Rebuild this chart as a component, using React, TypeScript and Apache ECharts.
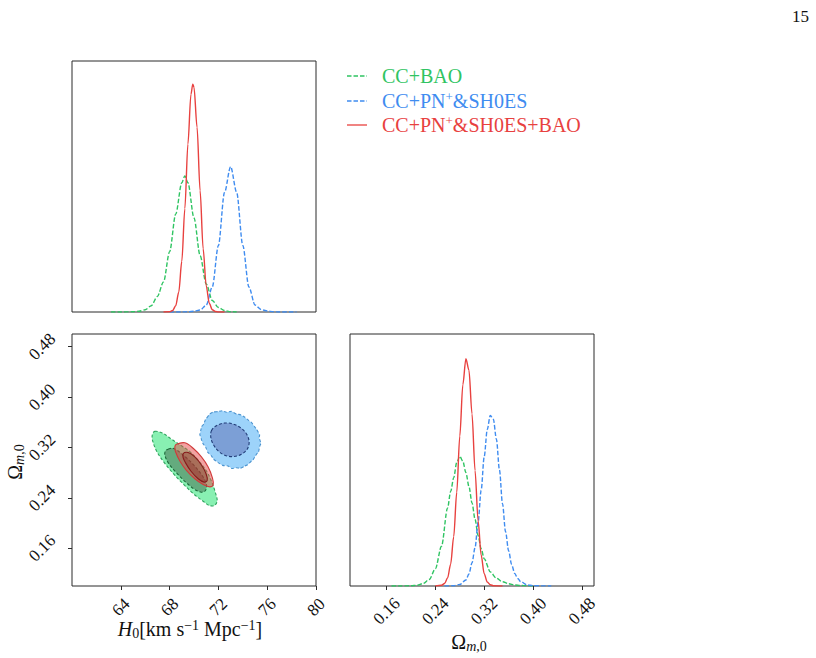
import React, { useEffect, useRef } from "react";
import * as echarts from "echarts";

const SERIES_NAMES = ["CC+BAO", "CC+PN⁺&SH0ES", "CC+PN⁺&SH0ES+BAO"];

const H0_TICKS = [64, 68, 72, 76, 80];
const OM_TICKS = [0.16, 0.24, 0.32, 0.4, 0.48];

// 1D marginal of H0: [H0, relative density]
const H0_CCBAO = [[63.2, 0], [64, 0], [65, 0.001], [65.5, 0.003], [66, 0.009], [66.5, 0.025], [67, 0.062], [67.5, 0.12], [68, 0.24], [68.5, 0.39], [69, 0.515], [69.25, 0.542], [69.5, 0.515], [70, 0.375], [70.5, 0.225], [71, 0.112], [71.5, 0.046], [72, 0.018], [72.5, 0.006], [73, 0.001], [73.5, 0]];
const H0_CCPN = [[68, 0], [69, 0.0003], [69.5, 0.001], [70, 0.003], [70.5, 0.008], [71, 0.027], [71.5, 0.1], [72, 0.265], [72.5, 0.476], [73, 0.579], [73.5, 0.476], [74, 0.265], [74.5, 0.1], [75, 0.028], [75.5, 0.01], [76, 0.004], [76.5, 0.001], [77, 0], [78.4, 0]];
const H0_ALL = [[67.5, 0], [68, 0.001], [68.25, 0.006], [68.5, 0.025], [68.75, 0.079], [69, 0.202], [69.25, 0.412], [69.5, 0.669], [69.75, 0.867], [69.9, 0.908], [70, 0.895], [70.25, 0.736], [70.5, 0.483], [70.75, 0.252], [71, 0.105], [71.25, 0.035], [71.5, 0.009], [71.75, 0.002], [72, 0], [72.5, 0]];

// 1D marginal of Omega_m0
const OM_CCBAO = [[0.168, 0], [0.18, 0], [0.2, 0.001], [0.21, 0.003], [0.22, 0.01], [0.23, 0.026], [0.24, 0.069], [0.25, 0.158], [0.26, 0.31], [0.265, 0.375], [0.27, 0.43], [0.275, 0.49], [0.28, 0.515], [0.285, 0.495], [0.29, 0.45], [0.295, 0.395], [0.3, 0.33], [0.305, 0.265], [0.31, 0.2], [0.315, 0.148], [0.32, 0.108], [0.33, 0.056], [0.34, 0.031], [0.35, 0.017], [0.36, 0.009], [0.37, 0.004], [0.38, 0.002], [0.39, 0.001], [0.4, 0]];
const OM_CCPN = [[0.255, 0], [0.27, 0.001], [0.28, 0.006], [0.29, 0.024], [0.295, 0.048], [0.3, 0.092], [0.305, 0.152], [0.31, 0.253], [0.315, 0.38], [0.32, 0.513], [0.325, 0.621], [0.33, 0.677], [0.335, 0.662], [0.34, 0.583], [0.345, 0.461], [0.35, 0.327], [0.355, 0.215], [0.36, 0.14], [0.365, 0.085], [0.37, 0.05], [0.375, 0.03], [0.38, 0.017], [0.39, 0.005], [0.4, 0.001], [0.43, 0]];
const OM_ALL = [[0.24, 0], [0.25, 0.003], [0.255, 0.01], [0.26, 0.032], [0.265, 0.087], [0.27, 0.196], [0.275, 0.372], [0.28, 0.595], [0.285, 0.799], [0.29, 0.902], [0.295, 0.856], [0.3, 0.683], [0.305, 0.458], [0.31, 0.259], [0.315, 0.123], [0.32, 0.049], [0.325, 0.016], [0.33, 0.005], [0.335, 0.001], [0.35, 0]];

// 2D contours [H0, Omega_m0]
const C_CCBAO_OUT = [[66.78, 0.3454], [67.47, 0.3422], [68.15, 0.3331], [68.97, 0.3225], [69.66, 0.3134], [70.34, 0.2995], [71.02, 0.2825], [71.43, 0.2665], [71.76, 0.2478], [71.9, 0.2355], [71.71, 0.2281], [71.3, 0.2275], [70.75, 0.2345], [69.93, 0.2467], [69.11, 0.2622], [68.29, 0.2787], [67.61, 0.2947], [67.0, 0.3118], [66.65, 0.3278], [66.57, 0.3385]];
const C_CCBAO_IN = [[67.88, 0.3171], [68.29, 0.3187], [68.97, 0.3102], [69.79, 0.2958], [70.61, 0.2771], [71.02, 0.2611], [70.94, 0.2515], [70.61, 0.2489], [70.07, 0.2531], [69.38, 0.2638], [68.56, 0.2798], [67.88, 0.2958], [67.61, 0.3081], [67.66, 0.3145]];
const C_CCPN_OUT = [[71.3, 0.3731], [71.6, 0.3762], [71.98, 0.3769], [72.3, 0.3782], [72.66, 0.3758], [73.05, 0.3772], [73.48, 0.3731], [73.85, 0.3716], [74.17, 0.3678], [74.5, 0.3625], [74.71, 0.3598], [75.0, 0.352], [75.12, 0.3491], [75.38, 0.3398], [75.34, 0.3358], [75.48, 0.3265], [75.4, 0.3225], [75.28, 0.3125], [75.12, 0.3091], [74.85, 0.3005], [74.71, 0.2985], [74.4, 0.2925], [74.17, 0.2905], [73.8, 0.2868], [73.48, 0.2878], [73.1, 0.2865], [72.8, 0.2905], [72.35, 0.2915], [71.98, 0.2958], [71.62, 0.3012], [71.43, 0.3065], [71.12, 0.3125], [70.97, 0.3198], [70.72, 0.3265], [70.6, 0.3331], [70.48, 0.3405], [70.55, 0.3465], [70.62, 0.3528], [70.8, 0.3571], [70.92, 0.3632], [71.02, 0.3662]];
const C_CCPN_IN = [[71.43, 0.3465], [71.84, 0.3545], [72.53, 0.3587], [73.21, 0.3571], [73.89, 0.3502], [74.36, 0.3395], [74.52, 0.3278], [74.36, 0.3171], [73.89, 0.3091], [73.21, 0.3054], [72.53, 0.3075], [71.98, 0.3145], [71.57, 0.3251], [71.38, 0.3358]];
const C_ALL_OUT = [[68.56, 0.3251], [69.25, 0.3273], [69.93, 0.3187], [70.61, 0.3049], [71.16, 0.2889], [71.49, 0.2729], [71.57, 0.2611], [71.3, 0.2574], [70.75, 0.2611], [70.07, 0.2702], [69.38, 0.2835], [68.84, 0.2985], [68.48, 0.3134], [68.43, 0.3209]];
const C_ALL_IN = [[69.11, 0.3102], [69.52, 0.3118], [70.07, 0.3049], [70.61, 0.2921], [70.99, 0.2782], [71.08, 0.2675], [70.83, 0.2649], [70.34, 0.2702], [69.74, 0.2825], [69.3, 0.2958], [69.11, 0.3038]];

const CONTOURS = [C_CCBAO_OUT, C_CCBAO_IN, C_CCPN_OUT, C_CCPN_IN, C_ALL_OUT, C_ALL_IN];

const GREEN = "#2fc462";
const BLUE = "#3f8cf0";
const RED = "#e8413f";

const CONTOUR_STYLES = [
  { fill: "#88f0b2", stroke: "#2ea35c", dash: true, smooth: 0.35 },
  { fill: "#64ab7e", stroke: "#1d6a3b", dash: true, smooth: 0.35 },
  { fill: "#9dd3fa", stroke: "#4b93cf", dash: true, smooth: 0.15 },
  { fill: "#7c9fd6", stroke: "#223d78", dash: true, smooth: 0.35 },
  { fill: "rgba(232,70,70,0.5)", stroke: "#d03a3a", dash: false, smooth: 0.35 },
  { fill: "rgba(140,30,30,0.35)", stroke: "#861a1a", dash: false, smooth: 0.35 },
];

const FONT = "Liberation Serif";
const AXIS_COLOR = "#2b2b2b";

export default function App() {
  const ref = useRef<HTMLDivElement>(null);
  useEffect(() => {
    if (!ref.current) return;
    const chart = echarts.init(ref.current, null, { renderer: "svg" });

    const tickLabel = (margin: number, fmt: (v: number) => string) => ({
      show: true,
      rotate: 45,
      align: "center",
      verticalAlign: "middle",
      margin,
      fontFamily: FONT,
      fontSize: 17,
      color: "#111",
      formatter: (v: number) => fmt(v),
    });

    const lineSeries = (name: string, data: number[][], color: string, dashed: boolean, xi: number) => ({
      name,
      type: "line",
      xAxisIndex: xi,
      yAxisIndex: xi,
      data,
      showSymbol: false,
      smooth: 0.3,
      smoothMonotone: "x",
      lineStyle: { color, width: 1.4, type: dashed ? [4.5, 2] : "solid" },
      itemStyle: { color },
      z: 3,
    });

    const option: any = {
      animation: false,
      backgroundColor: "#fff",
      grid: [
        { left: 72, top: 61, width: 244, height: 251, show: true, borderColor: AXIS_COLOR, borderWidth: 1, backgroundColor: "transparent" },
        { left: 72, top: 334, width: 244, height: 252, show: true, borderColor: AXIS_COLOR, borderWidth: 1, backgroundColor: "transparent" },
        { left: 350, top: 334, width: 244, height: 252, show: true, borderColor: AXIS_COLOR, borderWidth: 1, backgroundColor: "transparent" },
      ],
      xAxis: [
        { gridIndex: 0, type: "value", min: 60, max: 80, axisLine: { show: false }, axisTick: { show: false }, axisLabel: { show: false }, splitLine: { show: false } },
        {
          gridIndex: 1, type: "value", min: 60, max: 80,
          axisLine: { show: false },
          axisTick: { show: true, length: 4, lineStyle: { color: AXIS_COLOR }, customValues: H0_TICKS },
          axisLabel: { ...tickLabel(21, (v) => String(v)), customValues: H0_TICKS },
          splitLine: { show: false },
        },
        {
          gridIndex: 2, type: "value", min: 0.1, max: 0.5,
          axisLine: { show: false },
          axisTick: { show: true, length: 4, lineStyle: { color: AXIS_COLOR }, customValues: OM_TICKS },
          axisLabel: { ...tickLabel(25, (v) => v.toFixed(2)), customValues: OM_TICKS },
          splitLine: { show: false },
        },
      ],
      yAxis: [
        { gridIndex: 0, type: "value", min: 0, max: 1, show: false },
        {
          gridIndex: 1, type: "value", min: 0.1, max: 0.5,
          axisLine: { show: false },
          axisTick: { show: true, length: 4, lineStyle: { color: AXIS_COLOR }, customValues: OM_TICKS },
          axisLabel: { ...tickLabel(30, (v) => v.toFixed(2)), customValues: OM_TICKS },
          splitLine: { show: false },
        },
        { gridIndex: 2, type: "value", min: 0, max: 1, show: false },
      ],
      series: [
        lineSeries(SERIES_NAMES[0], H0_CCBAO, GREEN, true, 0),
        lineSeries(SERIES_NAMES[1], H0_CCPN, BLUE, true, 0),
        lineSeries(SERIES_NAMES[2], H0_ALL, RED, false, 0),
        lineSeries(SERIES_NAMES[0], OM_CCBAO, GREEN, true, 2),
        lineSeries(SERIES_NAMES[1], OM_CCPN, BLUE, true, 2),
        lineSeries(SERIES_NAMES[2], OM_ALL, RED, false, 2),
        {
          type: "custom",
          name: "contours",
          xAxisIndex: 1,
          yAxisIndex: 1,
          clip: true,
          data: CONTOURS.map((c) => [c[0][0], c[0][1]]),
          renderItem: (params: any, api: any) => {
            const pts = CONTOURS[params.dataIndex].map((p) => api.coord(p));
            const st = CONTOUR_STYLES[params.dataIndex];
            return {
              type: "polygon",
              shape: { points: pts, smooth: st.smooth },
              style: { fill: st.fill, stroke: st.stroke, lineWidth: 1.1, lineDash: st.dash ? [3, 2] : null },
            };
          },
          z: 2,
        },
      ],
      graphic: [
        { type: "text", left: 792, top: 8, style: { text: "15", font: `17px '${FONT}'`, fill: "#111" } },
        // legend
        { type: "line", shape: { x1: 347, y1: 76, x2: 367, y2: 76 }, style: { stroke: GREEN, lineWidth: 1.3, lineDash: [4.5, 2] } },
        { type: "line", shape: { x1: 347, y1: 101, x2: 367, y2: 101 }, style: { stroke: BLUE, lineWidth: 1.3, lineDash: [4.5, 2] } },
        { type: "line", shape: { x1: 347, y1: 125, x2: 367, y2: 125 }, style: { stroke: RED, lineWidth: 1.3 } },
        {
          type: "text", x: 382, y: 76,
          style: { text: "CC+BAO", fontFamily: FONT, fontSize: 20, fill: GREEN, verticalAlign: "middle", align: "left" },
        },
        {
          type: "text", x: 382, y: 101,
          style: {
            text: "{a|CC+PN}{s|+}{a|&SH0ES}", verticalAlign: "middle", align: "left",
            rich: { a: { fontFamily: FONT, fontSize: 20, fill: BLUE, lineHeight: 22 }, s: { fontFamily: FONT, fontSize: 13, fill: BLUE, verticalAlign: "top", lineHeight: 22, padding: [0, 0, 8, 0] } },
          },
        },
        {
          type: "text", x: 382, y: 125,
          style: {
            text: "{a|CC+PN}{s|+}{a|&SH0ES+BAO}", verticalAlign: "middle", align: "left",
            rich: { a: { fontFamily: FONT, fontSize: 20, fill: RED, lineHeight: 22 }, s: { fontFamily: FONT, fontSize: 13, fill: RED, verticalAlign: "top", lineHeight: 22, padding: [0, 0, 8, 0] } },
          },
        },
        // axis names
        {
          type: "text", x: 190, y: 629,
          style: {
            text: "{i|H}{sb|0}{n|[km s}{sp|−1}{n| Mpc}{sp|−1}{n|]}", align: "center", verticalAlign: "middle",
            rich: {
              i: { fontFamily: FONT, fontSize: 20, fontStyle: "italic", fill: "#111", lineHeight: 22 },
              n: { fontFamily: FONT, fontSize: 20, fill: "#111", lineHeight: 22 },
              sb: { fontFamily: FONT, fontSize: 14, fill: "#111", lineHeight: 22, padding: [8, 0, 0, 0] },
              sp: { fontFamily: FONT, fontSize: 14, fill: "#111", lineHeight: 22, padding: [0, 0, 8, 0] },
            },
          },
        },
        {
          type: "text", x: 469, y: 642,
          style: {
            text: "{n|Ω}{i|m}{sb|,0}", align: "center", verticalAlign: "middle",
            rich: {
              n: { fontFamily: FONT, fontSize: 20, fill: "#111", lineHeight: 22 },
              i: { fontFamily: FONT, fontSize: 14, fontStyle: "italic", fill: "#111", lineHeight: 22, padding: [8, 0, 0, 0] },
              sb: { fontFamily: FONT, fontSize: 14, fill: "#111", lineHeight: 22, padding: [8, 0, 0, 0] },
            },
          },
        },
        {
          type: "text", x: 15, y: 462, rotation: Math.PI / 2,
          style: {
            text: "{n|Ω}{i|m}{sb|,0}", align: "center", verticalAlign: "middle",
            rich: {
              n: { fontFamily: FONT, fontSize: 20, fill: "#111", lineHeight: 22 },
              i: { fontFamily: FONT, fontSize: 14, fontStyle: "italic", fill: "#111", lineHeight: 22, padding: [8, 0, 0, 0] },
              sb: { fontFamily: FONT, fontSize: 14, fill: "#111", lineHeight: 22, padding: [8, 0, 0, 0] },
            },
          },
        },
      ],
    };
    chart.setOption(option);
    return () => chart.dispose();
  }, []);
  return <div ref={ref} style={{ position: "fixed", left: 0, top: 0, width: 816, height: 658 }} />;
}
